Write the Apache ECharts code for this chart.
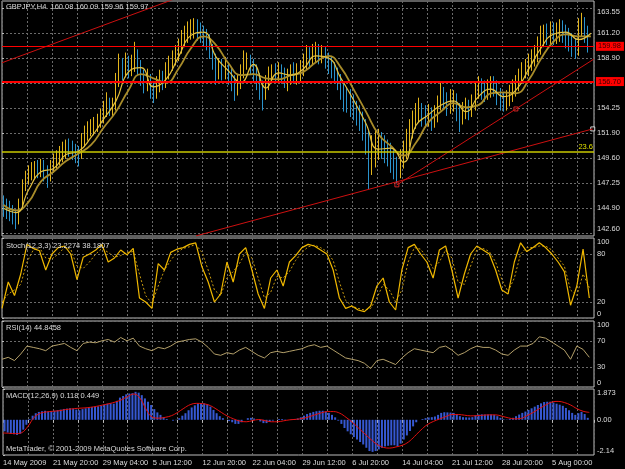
<!DOCTYPE html>
<html>
<head>
<meta charset="utf-8">
<title>GBPJPY,H4</title>
<script src="https://cdn.jsdelivr.net/npm/echarts@6.0.0/dist/echarts.min.js"></script>
<style>
  html, body { margin: 0; padding: 0; background: #000; }
  #chart { width: 625px; height: 469px; }
</style>
</head>
<body>
<div id="chart"></div>
<script>
// ---- data (each candle = two H4 bars, x axis counted in H4 bars) ----
const timeLabels = ['14 May 2009', '21 May 20:00', '29 May 04:00', '5 Jun 12:00', '12 Jun 20:00', '22 Jun 04:00',
  '29 Jun 12:00', '6 Jul 20:00', '14 Jul 04:00', '21 Jul 12:00', '28 Jul 20:00', '5 Aug 00:00'];
const priceTicks = [142.60, 144.90, 147.25, 149.60, 151.90, 154.25, 156.55, 158.90, 161.20, 163.55];
const stochTicks = [0, 20, 80, 100];
const rsiTicks = [0, 30, 70, 100];
const macdTicks = [-2.14, 0, 1.873];

const barOpen = [
  145.20,144.94,144.75,144.56,144.28,143.82,145.21,147.08,147.73,148.01,
  148.29,148.60,148.47,148.66,148.47,148.01,148.85,149.22,149.50,149.87,
  150.15,150.60,150.43,150.33,150.06,149.87,151.27,151.82,152.20,152.48,
  152.66,152.94,153.41,154.06,154.43,154.25,154.43,156.85,158.25,157.78,
  158.53,157.97,158.34,159.18,158.16,157.22,156.67,156.85,156.11,155.83,
  156.48,156.95,156.85,157.60,158.53,158.90,159.27,159.92,160.58,160.95,
  161.41,161.51,161.69,161.41,161.23,160.95,160.58,159.64,158.71,157.80,
  157.97,157.69,157.97,157.41,156.85,156.20,156.57,157.60,158.53,158.71,
  158.25,157.78,156.95,156.29,155.73,156.57,157.22,157.70,157.50,157.69,
  157.41,156.90,157.13,157.60,157.20,157.41,157.78,158.43,159.09,158.90,
  159.18,159.46,159.18,159.37,158.90,158.43,157.97,157.50,156.95,156.20,
  155.36,154.99,154.80,154.34,153.78,153.41,152.66,151.55,149.59,150.15,
  150.52,151.17,150.89,150.43,150.15,149.59,148.94,148.29,149.40,150.33,
  151.36,152.29,153.03,153.78,153.97,153.50,153.41,153.50,153.22,153.50,
  154.62,155.36,155.08,154.62,154.80,154.99,154.15,153.41,153.87,154.25,
  154.06,154.52,155.83,156.29,156.01,155.83,156.01,156.40,156.20,155.55,
  155.08,154.80,155.08,155.46,156.01,156.48,157.13,157.69,157.97,158.43,
  158.90,159.18,159.83,160.76,161.20,161.04,161.32,161.04,161.23,161.51,
  161.32,160.95,160.67,160.11,159.64,161.51,162.07,161.32
];
const barClose = [
  144.94,144.75,144.56,144.28,143.82,145.21,147.08,147.73,148.01,148.29,
  148.47,148.47,148.66,148.47,148.01,148.85,149.22,149.50,149.87,150.15,
  150.43,150.43,150.33,150.06,149.87,151.27,151.82,152.20,152.48,152.66,
  152.94,153.41,154.06,154.43,154.25,154.43,156.85,158.25,157.78,158.53,
  157.97,158.34,159.18,158.16,157.22,156.67,156.85,156.11,155.83,156.48,
  156.95,156.85,157.60,158.53,158.90,159.27,159.92,160.58,160.95,161.41,
  161.51,161.69,161.41,161.23,160.95,160.58,159.64,158.71,157.97,157.97,
  157.69,157.97,157.41,156.85,156.20,156.57,157.60,158.53,158.71,158.25,
  157.78,156.95,156.29,155.73,156.57,157.22,157.50,157.50,157.69,157.41,
  157.13,157.13,157.41,157.41,157.41,157.78,158.43,159.09,158.90,159.18,
  159.46,159.18,159.37,158.90,158.43,157.97,157.50,156.95,156.20,155.36,
  154.99,154.80,154.34,153.78,153.41,152.66,151.55,149.59,150.15,150.52,
  151.17,150.89,150.43,150.15,149.59,148.94,148.29,149.40,150.33,151.36,
  152.29,153.03,153.78,153.97,153.50,153.41,153.50,153.22,153.50,154.62,
  155.36,155.08,154.62,154.80,154.99,154.15,153.41,153.87,154.25,154.06,
  154.52,155.83,156.29,156.01,155.83,156.01,156.20,156.20,155.55,155.08,
  154.80,155.08,155.46,156.01,156.48,157.13,157.69,157.97,158.43,158.90,
  159.18,159.83,160.76,161.04,161.04,161.32,161.04,161.23,161.51,161.32,
  160.95,160.67,160.11,159.64,161.51,162.07,161.32,159.97
];
const barLow = [
  144.10,143.90,143.70,143.40,142.95,143.40,144.80,146.50,147.10,147.50,
  147.60,147.70,147.80,147.40,146.80,147.40,148.20,148.60,148.90,149.20,
  149.50,149.70,149.40,149.10,148.80,149.50,150.60,151.20,151.60,151.70,
  152.00,152.40,152.80,153.40,153.50,153.50,154.00,156.20,156.80,157.10,
  157.00,157.20,157.60,157.30,156.30,155.60,155.80,155.10,154.70,155.10,
  155.70,155.90,156.10,156.90,157.70,158.20,158.60,159.30,159.90,160.30,
  160.60,160.70,160.50,160.30,160.00,159.60,158.80,157.80,156.40,156.90,
  156.80,156.90,156.40,155.80,154.90,155.40,156.00,157.00,157.80,157.30,
  156.70,155.90,155.00,154.00,155.00,155.90,156.60,156.60,156.70,156.50,
  156.10,155.80,156.40,156.50,156.40,156.70,157.20,157.80,157.90,158.20,
  158.50,158.30,158.40,157.90,157.40,157.00,156.50,155.90,155.00,153.90,
  153.80,153.40,153.10,152.60,152.10,151.20,149.90,146.70,148.00,148.70,
  149.40,149.50,149.10,148.80,148.20,147.60,147.00,147.70,148.60,149.50,
  150.60,151.40,152.30,152.90,152.50,152.40,152.50,152.10,152.40,152.90,
  154.00,154.10,153.50,153.70,153.90,153.00,152.00,152.70,153.20,153.10,
  153.40,154.00,155.10,155.00,154.80,155.00,155.20,155.30,154.50,154.00,
  153.90,154.00,154.40,154.80,155.30,155.80,156.50,157.00,157.20,157.70,
  158.10,158.50,159.20,159.90,160.10,160.20,160.10,160.20,160.40,160.30,
  159.80,159.50,159.00,158.80,159.10,160.90,160.30,159.40
];
const barHigh = [
  146.10,145.80,145.60,145.20,144.80,145.80,147.60,148.40,148.90,149.20,
  149.30,149.40,149.50,149.40,148.90,149.40,150.00,150.30,150.70,151.10,
  151.30,151.40,151.20,150.90,150.70,151.90,152.60,153.00,153.20,153.40,
  153.70,154.20,154.90,155.70,155.20,155.20,157.50,159.30,158.90,159.40,
  159.10,159.20,160.40,159.70,158.70,157.80,157.90,157.40,156.70,157.20,
  157.80,157.70,158.50,159.10,159.60,160.10,160.70,161.50,161.90,162.30,
  162.50,162.60,162.50,162.20,161.90,161.60,161.10,160.20,159.30,158.90,
  158.80,159.00,158.50,158.00,157.30,157.40,158.30,159.60,159.40,159.20,
  158.80,158.30,157.50,156.80,157.30,158.10,158.30,158.40,158.50,158.30,
  158.00,157.90,158.30,158.50,158.40,158.70,159.30,160.10,159.90,160.20,
  160.40,160.20,160.10,159.90,159.40,159.00,158.50,158.00,157.40,156.70,
  156.10,156.00,155.50,154.90,154.50,153.90,153.20,152.10,151.70,152.20,
  152.30,152.00,151.70,151.30,151.00,150.30,149.70,150.40,151.20,152.30,
  153.20,154.00,154.70,155.20,154.70,154.50,154.60,154.30,154.50,155.40,
  156.60,156.20,155.70,156.00,155.90,155.60,154.70,154.80,155.20,155.00,
  155.50,156.70,157.20,157.00,156.80,156.90,157.20,157.20,156.80,156.10,
  155.70,155.90,156.40,156.90,157.30,157.90,158.50,158.80,159.30,159.70,
  160.10,160.90,161.90,162.00,162.10,162.30,162.20,162.20,162.50,162.40,
  162.00,161.70,161.20,160.70,162.60,163.10,162.70,161.90
];

// moving averages, one value every 8 H4 bars
const maFast = [144.9,144.5,146.6,148.3,148.6,149.9,150.2,151.5,153.2,154.9,157.6,158.0,
  156.2,156.9,159.0,161.0,161.3,159.0,157.7,156.6,158.3,156.1,157.5,157.3,157.9,159.1,
  158.9,157.0,155.0,152.8,150.4,150.5,149.2,152.6,153.6,154.5,154.9,153.9,155.3,156.0,
  155.3,155.9,157.8,159.8,161.1,161.3,160.6,161.2];
const maSlow = [145.2,144.7,145.5,147.4,148.3,149.3,150.0,150.8,152.4,153.9,155.9,157.4,
  157.0,156.6,157.9,159.8,160.9,160.1,158.4,157.3,157.4,157.0,156.9,157.3,157.6,158.5,
  159.1,158.0,156.0,153.9,151.8,150.7,149.8,151.0,152.9,153.9,154.7,154.3,154.5,155.6,
  155.7,155.6,156.8,158.8,160.4,161.1,160.9,160.9];

// trend lines [bar, price] and the 23.6 fibo level / horizontal levels
const trendUpper = [[0, 158.45], [120, 164.9]];
const trendLong = [[124.2, 142.33], [378.2, 152.29]];
const trendSteep = [[252.8, 147.08], [329.0, 154.15], [378.9, 158.79]];
const anchorRed = [[252.8, 147.08], [329.0, 154.15]];
const anchorWhite = [[378.2, 152.29]];
const levelBid = 159.98;
const levelRes = 156.70;
const fibo236 = 150.14;

// indicators, one value every 4 H4 bars
const stochMain = [12,45,28,55,92,87,84,60,80,88, 90,80,48,76,80,85,92,70,75,85,
  79,87,25,20,12,68,60,82,86,88, 92,94,64,45,20,30,70,45,80,88, 60,30,12,50,60,40,70,78,88,92,
  90,85,80,60,25,12,15,10,8,15, 40,50,20,10,60,88,92,80,70,50, 85,90,60,25,55,80,90,85,80,60,
  35,30,70,94,83,88,94,88,80,70, 58,16,40,86,25];
const stochSignal = [20,30,35,42,70,85,88,75,74,80, 88,86,65,62,70,80,87,82,76,78,
  82,83,55,28,18,40,60,72,82,87, 89,92,82,60,35,28,50,58,68,82, 75,50,25,32,52,50,58,72,82,89,
  91,88,83,72,45,22,15,12,10,12, 25,42,35,20,35,70,88,86,76,62, 70,85,75,45,42,65,85,87,83,70,
  48,33,50,80,88,88,90,90,85,75, 65,35,28,55,38];
const rsi = [42,45,40,50,62,60,58,55,62,64, 66,60,55,66,68,67,70,72,68,75,
  70,74,62,58,55,60,58,62,68,70, 72,73,68,60,50,48,52,50,56,60, 54,48,44,52,54,52,54,56,58,62,
  64,60,62,56,50,44,42,40,36,28, 40,42,38,34,44,52,58,56,54,52, 60,62,56,48,52,58,62,60,60,56,
  50,48,56,62,62,66,76,74,68,62, 56,42,62,57,45];
// MACD main (histogram) one value per candle, signal every 4 H4 bars
const macdMain = [
  -0.70,-0.78,-0.85,-0.88,-0.92,-0.85,-0.60,-0.30,0.05,0.25,
  0.40,0.48,0.52,0.55,0.50,0.52,0.55,0.58,0.62,0.66,
  0.68,0.70,0.68,0.62,0.58,0.65,0.70,0.74,0.78,0.80,
  0.82,0.86,0.92,0.98,1.00,0.98,1.15,1.35,1.45,1.55,
  1.60,1.62,1.70,1.65,1.50,1.30,1.10,0.90,0.65,0.45,
  0.30,0.15,0.05,0.00,-0.05,-0.02,0.10,0.25,0.40,0.58,
  0.75,0.88,0.98,1.02,1.00,0.95,0.80,0.60,0.40,0.22,
  0.10,0.00,-0.08,-0.15,-0.25,-0.25,-0.15,0.00,0.10,0.12,
  0.08,0.00,-0.10,-0.20,-0.20,-0.12,-0.05,0.00,0.05,0.05,
  0.02,0.00,0.02,0.05,0.08,0.15,0.25,0.35,0.42,0.48,
  0.52,0.55,0.55,0.50,0.42,0.30,0.15,-0.05,-0.25,-0.50,
  -0.70,-0.88,-1.05,-1.20,-1.35,-1.50,-1.70,-1.90,-1.95,-1.90,
  -1.80,-1.70,-1.62,-1.58,-1.55,-1.55,-1.60,-1.45,-1.20,-0.95,
  -0.68,-0.40,-0.15,0.00,0.05,0.10,0.14,0.16,0.20,0.30,
  0.42,0.46,0.45,0.44,0.42,0.35,0.22,0.16,0.15,0.14,
  0.16,0.26,0.32,0.33,0.32,0.32,0.32,0.30,0.22,0.12,
  0.04,0.02,0.05,0.12,0.22,0.32,0.42,0.50,0.60,0.70,
  0.80,0.90,1.00,1.08,1.10,1.10,1.05,0.98,0.92,0.85,
  0.72,0.58,0.42,0.30,0.40,0.48,0.35,0.12
];
const macdSignal = [-0.80,-0.82,-0.84,-0.78,-0.40,0.15,0.40,0.48,0.52,0.55,
  0.62,0.66,0.70,0.72,0.76,0.82,0.90,0.98,1.08,1.22,
  1.42,1.57,1.30,0.60,0.15,0.10,0.15,0.25,0.45,0.70,
  0.92,1.00,0.98,0.90,0.70,0.45,0.22,0.05,-0.08,-0.12,
  -0.05,0.02,-0.05,-0.12,-0.12,-0.06,0.00,0.03,0.08,0.18,
  0.30,0.42,0.50,0.50,0.40,0.15,-0.15,-0.50,-0.85,-1.20,
  -1.50,-1.68,-1.72,-1.65,-1.55,-1.35,-1.00,-0.62,-0.30,-0.10,
  0.05,0.20,0.32,0.32,0.28,0.24,0.25,0.28,0.30,0.30,
  0.22,0.12,0.06,0.08,0.25,0.45,0.68,0.90,1.08,1.12,
  1.05,0.90,0.68,0.52,0.45];

// ---- chart ----
const FONT = '"Liberation Sans", Arial, sans-serif';
const TXT = '#dcdcdc';
const GRIDLINE = '#6a6a6a';
const FRAME = '#bdbdbd';
const UP = '#e3b51c';
const DOWN = '#2a93cc';
const X_MAX = 379;

const chart = echarts.init(document.getElementById('chart'));

const candles = barClose.map((c, k) => [2 * k + 1, barOpen[k], c, barLow[k], barHigh[k]]);
const every8 = arr => arr.map((v, i) => [8 * i + 1, v]);
const every4 = arr => arr.map((v, i) => [4 * i, v]);
const labelBars = timeLabels.map((t, i) => i * 32);

const panels = [
  { top: 1, height: 235 },
  { top: 238, height: 80 },
  { top: 321, height: 66 },
  { top: 389, height: 66 }
];

function xAxisFor(i) {
  const last = i === panels.length - 1;
  return {
    type: 'value', gridIndex: i, min: 0, max: X_MAX, interval: 16,
    axisLine: { show: false },
    axisTick: { show: last, length: 3, lineStyle: { color: FRAME } },
    axisLabel: {
      show: last, customValues: labelBars, align: 'left', margin: 4,
      color: TXT, fontSize: 7.5, fontFamily: FONT,
      formatter: v => timeLabels[Math.round(v / 32)]
    },
    splitLine: { show: true, lineStyle: { color: GRIDLINE, type: [2, 2] } }
  };
}

function yAxisFor(i, min, max, ticks, fmt, split) {
  return {
    type: 'value', gridIndex: i, position: 'right', min: min, max: max,
    axisLine: { show: false },
    axisTick: { show: true, customValues: ticks, length: 2, lineStyle: { color: FRAME } },
    axisLabel: {
      customValues: ticks, formatter: fmt, margin: 3, color: TXT, fontSize: 7.5, fontFamily: FONT,
      verticalAlignMinLabel: 'bottom', verticalAlignMaxLabel: 'top'
    },
    splitLine: { show: split, lineStyle: { color: GRIDLINE, type: [2, 2] } }
  };
}

function levelLine(value, color, width, text, pos) {
  return {
    yAxis: value,
    lineStyle: { color: color, width: width, type: 'solid' },
    label: pos === 'end' ? {
      show: true, position: 'end', distance: 2, formatter: text,
      color: '#3a0000', backgroundColor: color, padding: [1, 3, 0, 2],
      fontSize: 7.5, fontFamily: FONT
    } : {
      show: true, position: 'insideEndTop', distance: 1, formatter: text,
      color: '#e0e000', fontSize: 7.5, fontFamily: FONT
    }
  };
}

function lineSeries(name, data, xi, color, width, extra) {
  return Object.assign({
    name: name, type: 'line', xAxisIndex: xi, yAxisIndex: xi, data: data,
    symbol: 'none', lineStyle: { color: color, width: width }
  }, extra || {});
}

const option = {
  backgroundColor: '#000',
  animation: false,
  grid: panels.map(p => ({
    left: 2, right: 31, top: p.top, height: p.height,
    show: true, borderColor: FRAME, borderWidth: 1, backgroundColor: '#000'
  })),
  xAxis: panels.map((p, i) => xAxisFor(i)),
  yAxis: [
    yAxisFor(0, 142.32, 164.20, priceTicks, v => v.toFixed(2), true),
    yAxisFor(1, 0, 100, stochTicks, v => String(v), true),
    yAxisFor(2, 0, 100, rsiTicks, v => String(v), true),
    yAxisFor(3, -2.14, 1.873, macdTicks, v => (v === 0 ? '0.00' : String(v)), false)
  ],
  series: [
    {
      name: 'GBPJPY,H4', type: 'candlestick', xAxisIndex: 0, yAxisIndex: 0,
      data: candles, barWidth: 1,
      itemStyle: { color: UP, color0: DOWN, borderColor: UP, borderColor0: DOWN, borderWidth: 1 },
      markLine: {
        symbol: ['none', 'none'], silent: true, animation: false,
        data: [
          levelLine(levelBid, '#ff0000', 1, levelBid.toFixed(2), 'end'),
          levelLine(levelRes, '#ff0000', 2, levelRes.toFixed(2), 'end'),
          levelLine(fibo236, '#c8c800', 1.5, '23.6', 'inside')
        ]
      }
    },
    lineSeries('MA slow', every8(maSlow), 0, '#a88c2a', 1.8, { smooth: true }),
    lineSeries('MA fast', every8(maFast), 0, '#e2c040', 1.2, { smooth: true }),
    lineSeries('trend 1', trendUpper, 0, '#cc1010', 1),
    lineSeries('trend 2', trendLong, 0, '#cc1010', 1),
    lineSeries('trend 3', trendSteep, 0, '#cc1010', 1),
    {
      type: 'scatter', xAxisIndex: 0, yAxisIndex: 0, data: anchorRed, symbol: 'rect', symbolSize: 4,
      itemStyle: { color: '#000', borderColor: '#ff3030', borderWidth: 1 }
    },
    {
      type: 'scatter', xAxisIndex: 0, yAxisIndex: 0, data: anchorWhite, symbol: 'rect', symbolSize: 4,
      itemStyle: { color: '#000', borderColor: '#ffffff', borderWidth: 1 }
    },
    lineSeries('Stoch signal', every4(stochSignal), 1, '#c89a10', 1, { lineStyle: { color: '#c89a10', width: 1, type: [2, 2] } }),
    lineSeries('Stoch main', every4(stochMain), 1, '#f0b800', 1.2),
    lineSeries('RSI', every4(rsi), 2, '#b4a06a', 1),
    {
      name: 'MACD', type: 'bar', xAxisIndex: 3, yAxisIndex: 3,
      data: macdMain.map((v, k) => [2 * k + 1, v]), barWidth: 2,
      itemStyle: { color: '#3658d2' }
    },
    lineSeries('Signal', every4(macdSignal), 3, '#e41010', 1, { smooth: 0.4 })
  ],
  graphic: [
    ['GBPJPY,H4  160.08 160.09 159.96 159.97', 7],
    ['Stoch(12,3,3) 23.2274 38.1807', 246],
    ['RSI(14) 44.8458', 328],
    ['MACD(12,26,9) 0.118 0.449', 396],
    ['MetaTrader, \u00a9 2001-2009 MetaQuotes Software Corp.', 449]
  ].map(t => ({
    type: 'text', x: 6, y: t[1], z: 100, silent: true,
    style: { text: t[0], fill: TXT, fontSize: 7.5, fontFamily: FONT, verticalAlign: 'middle' }
  }))
};

chart.setOption(option);
</script>
</body>
</html>
